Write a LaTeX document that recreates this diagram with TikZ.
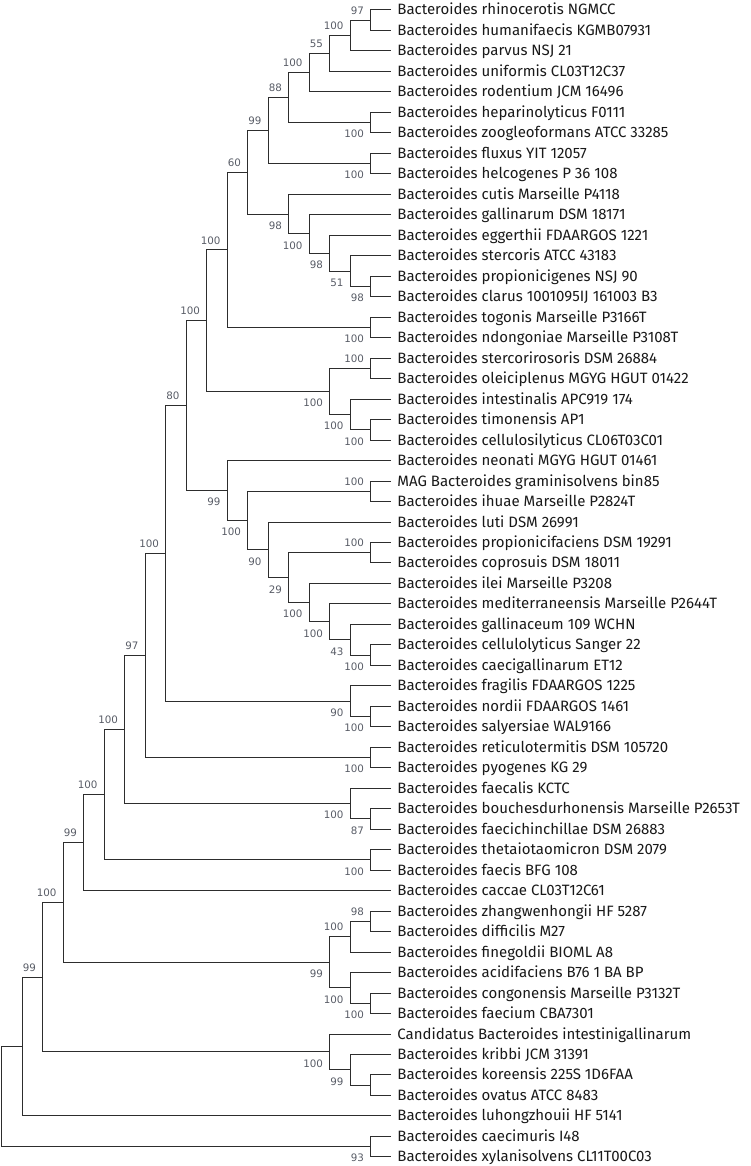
\documentclass[tikz,border=0pt]{standalone}
\usepackage{fontspec}
\newfontfamily\leaffont{Fira Sans}
\newfontfamily\supfont{DejaVu Sans}
\usetikzlibrary{calc}
\definecolor{labgray}{RGB}{88,92,102}
\definecolor{linegray}{RGB}{45,45,45}
\newcommand\tnode[4]{%
  \path ($(#3)!0.5!(#4)$) coordinate (m#1);
  \coordinate (#1) at (lv#2 |- m#1);
  \draw[branch] (#3) -| (#1) |- (#4);}
\newcommand\blab[3]{\node[#1] (s#2) at (#2) {#3};}
\begin{document}
\begin{tikzpicture}[x=1pt,y=1pt,
  branch/.style={draw=linegray,line width=1pt},
  leaf/.style={anchor=base west,inner sep=0pt,xshift=6pt,yshift=-5pt,font=\leaffont\fontsize{15}{17}\selectfont,text=black!90},
  bsup/.style={anchor=south east,inner sep=0pt,xshift=-6.5pt,yshift=5.5pt,font=\supfont\fontsize{10.3}{12}\selectfont,text=labgray},
  bsdn/.style={anchor=north east,inner sep=0pt,xshift=-6.5pt,yshift=-7.5pt,font=\supfont\fontsize{10.3}{12}\selectfont,text=labgray}]
\useasboundingbox (0,0) rectangle (751,-1166);
\foreach \L in {0,...,19} \coordinate (lv\L) at ({391.2-20.5*\L},0);
\foreach \i/\t in {1/{Bacteroides rhinocerotis NGMCC},
2/{Bacteroides humanifaecis KGMB07931},
3/{Bacteroides parvus NSJ 21},
4/{Bacteroides uniformis CL03T12C37},
5/{Bacteroides rodentium JCM 16496},
6/{Bacteroides heparinolyticus F0111},
7/{Bacteroides zoogleoformans ATCC 33285},
8/{Bacteroides fluxus YIT 12057},
9/{Bacteroides helcogenes P 36 108},
10/{Bacteroides cutis Marseille P4118},
11/{Bacteroides gallinarum DSM 18171},
12/{Bacteroides eggerthii FDAARGOS 1221},
13/{Bacteroides stercoris ATCC 43183},
14/{Bacteroides propionicigenes NSJ 90},
15/{Bacteroides clarus 1001095IJ 161003 B3},
16/{Bacteroides togonis Marseille P3166T},
17/{Bacteroides ndongoniae Marseille P3108T},
18/{Bacteroides stercorirosoris DSM 26884},
19/{Bacteroides oleiciplenus MGYG HGUT 01422},
20/{Bacteroides intestinalis APC919 174},
21/{Bacteroides timonensis AP1},
22/{Bacteroides cellulosilyticus CL06T03C01},
23/{Bacteroides neonati MGYG HGUT 01461},
24/{MAG Bacteroides graminisolvens bin85},
25/{Bacteroides ihuae Marseille P2824T},
26/{Bacteroides luti DSM 26991},
27/{Bacteroides propionicifaciens DSM 19291},
28/{Bacteroides coprosuis DSM 18011},
29/{Bacteroides ilei Marseille P3208},
30/{Bacteroides mediterraneensis Marseille P2644T},
31/{Bacteroides gallinaceum 109 WCHN},
32/{Bacteroides cellulolyticus Sanger 22},
33/{Bacteroides caecigallinarum ET12},
34/{Bacteroides fragilis FDAARGOS 1225},
35/{Bacteroides nordii FDAARGOS 1461},
36/{Bacteroides salyersiae WAL9166},
37/{Bacteroides reticulotermitis DSM 105720},
38/{Bacteroides pyogenes KG 29},
39/{Bacteroides faecalis KCTC},
40/{Bacteroides bouchesdurhonensis Marseille P2653T},
41/{Bacteroides faecichinchillae DSM 26883},
42/{Bacteroides thetaiotaomicron DSM 2079},
43/{Bacteroides faecis BFG 108},
44/{Bacteroides caccae CL03T12C61},
45/{Bacteroides zhangwenhongii HF 5287},
46/{Bacteroides difficilis M27},
47/{Bacteroides finegoldii BIOML A8},
48/{Bacteroides acidifaciens B76 1 BA BP},
49/{Bacteroides congonensis Marseille P3132T},
50/{Bacteroides faecium CBA7301},
51/{Candidatus Bacteroides intestinigallinarum},
52/{Bacteroides kribbi JCM 31391},
53/{Bacteroides koreensis 225S 1D6FAA},
54/{Bacteroides ovatus ATCC 8483},
55/{Bacteroides luhongzhouii HF 5141},
56/{Bacteroides caecimuris I48},
57/{Bacteroides xylanisolvens CL11T00C03}}{
  \coordinate (l\i) at (391.2,{-(10+20.48*(\i-1))});
  \node[leaf] (t\i) at (l\i) {\t};
}
% top clade
\tnode{a1}{1}{l1}{l2}\blab{bsup}{a1}{97}
\tnode{a2}{2}{a1}{l3}\blab{bsup}{a2}{100}
\tnode{a3}{3}{a2}{l4}\blab{bsup}{a3}{55}
\tnode{a4}{4}{a3}{l5}\blab{bsup}{a4}{100}
\tnode{a6}{1}{l6}{l7}\blab{bsdn}{a6}{100}
\tnode{a5}{5}{a4}{a6}\blab{bsup}{a5}{88}
\tnode{a8}{1}{l8}{l9}\blab{bsdn}{a8}{100}
\tnode{a7}{6}{a5}{a8}\blab{bsup}{a7}{99}
\tnode{b1}{1}{l14}{l15}\blab{bsdn}{b1}{98}
\tnode{b2}{2}{l13}{b1}\blab{bsdn}{b2}{51}
\tnode{b3}{3}{l12}{b2}\blab{bsdn}{b3}{98}
\tnode{b4}{4}{l11}{b3}\blab{bsdn}{b4}{100}
\tnode{b5}{5}{l10}{b4}\blab{bsdn}{b5}{98}
\tnode{a9}{7}{a7}{b5}\blab{bsup}{a9}{60}
\tnode{c1}{1}{l16}{l17}\blab{bsdn}{c1}{100}
\tnode{a10}{8}{a9}{c1}\blab{bsup}{a10}{100}
\tnode{d1}{1}{l18}{l19}\blab{bsup}{d1}{100}
\tnode{d2}{1}{l21}{l22}\blab{bsdn}{d2}{100}
\tnode{d3}{2}{l20}{d2}\blab{bsdn}{d3}{100}
\tnode{d4}{3}{d1}{d3}\blab{bsdn}{d4}{100}
\tnode{a11}{9}{a10}{d4}\blab{bsup}{a11}{100}
% second clade
\tnode{e1}{1}{l24}{l25}\blab{bsup}{e1}{100}
\tnode{e2}{1}{l27}{l28}\blab{bsup}{e2}{100}
\tnode{e3}{1}{l32}{l33}\blab{bsdn}{e3}{100}
\tnode{e4}{2}{l31}{e3}\blab{bsdn}{e4}{43}
\tnode{e5}{3}{l30}{e4}\blab{bsdn}{e5}{100}
\tnode{e6}{4}{l29}{e5}\blab{bsdn}{e6}{100}
\tnode{e7}{5}{e2}{e6}\blab{bsdn}{e7}{29}
\tnode{e9}{6}{l26}{e7}\blab{bsdn}{e9}{90}
\tnode{e10}{7}{e1}{e9}\blab{bsdn}{e10}{100}
\tnode{e11}{8}{l23}{e10}\blab{bsdn}{e11}{99}
\tnode{a12}{10}{a11}{e11}\blab{bsup}{a12}{80}
\tnode{f1}{1}{l35}{l36}\blab{bsdn}{f1}{100}
\tnode{f2}{2}{l34}{f1}\blab{bsdn}{f2}{90}
\tnode{a13}{11}{a12}{f2}\blab{bsup}{a13}{100}
\tnode{g1}{1}{l37}{l38}\blab{bsdn}{g1}{100}
\tnode{a14}{12}{a13}{g1}\blab{bsup}{a14}{97}
\tnode{h1}{1}{l40}{l41}\blab{bsdn}{h1}{87}
\tnode{h2}{2}{l39}{h1}\blab{bsdn}{h2}{100}
\tnode{a15}{13}{a14}{h2}\blab{bsup}{a15}{100}
\tnode{i1}{1}{l42}{l43}\blab{bsdn}{i1}{100}
\tnode{a16}{14}{a15}{i1}\blab{bsup}{a16}{100}
\tnode{a17}{15}{a16}{l44}\blab{bsup}{a17}{99}
\tnode{j1}{1}{l45}{l46}\blab{bsup}{j1}{98}
\tnode{j2}{2}{j1}{l47}\blab{bsup}{j2}{100}
\tnode{j3}{1}{l49}{l50}\blab{bsdn}{j3}{100}
\tnode{j4}{2}{l48}{j3}\blab{bsdn}{j4}{100}
\tnode{j5}{3}{j2}{j4}\blab{bsdn}{j5}{99}
\tnode{a18}{16}{a17}{j5}\blab{bsup}{a18}{100}
\tnode{k1}{1}{l53}{l54}
\tnode{k2}{2}{l52}{k1}\blab{bsdn}{k2}{99}
\tnode{k3}{3}{l51}{k2}\blab{bsdn}{k3}{100}
\tnode{a19}{17}{a18}{k3}\blab{bsup}{a19}{99}
\tnode{a20}{18}{a19}{l55}
\tnode{m1}{1}{l56}{l57}\blab{bsdn}{m1}{93}
\tnode{root}{19}{a20}{m1}
\end{tikzpicture}
\end{document}
